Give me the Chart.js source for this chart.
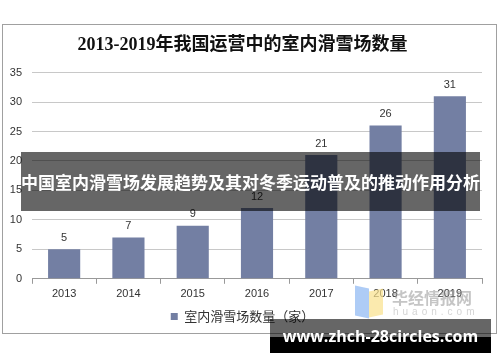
<!DOCTYPE html>
<html>
<head>
<meta charset="utf-8">
<script src="https://cdn.jsdelivr.net/npm/chart.js@4"></script>
<style>
  body { margin: 0; width: 500px; height: 362px; background: #fff; position: relative; overflow: hidden; }
  #frame { position: absolute; left: 2px; top: 24px; width: 493px; height: 308px; border: 1px solid #a0a0a0; }
  #frame canvas { display: block; }
  .band { position: absolute; left: 21px; top: 152px; width: 459px; height: 59px; background: rgba(0,0,0,0.6);
          color: #fff; font: bold 17px "Noto Sans CJK SC", sans-serif; text-align: center; line-height: 59px; white-space: nowrap; }
  .site-gray { position: absolute; left: 270px; top: 319px; width: 221px; height: 18px; background: rgba(0,0,0,0.6); }
  .site-black { position: absolute; left: 270px; top: 337px; width: 221px; height: 16px; background: #000; }
  .site-text { position: absolute; left: 270px; top: 325px; width: 221px; text-align: center; color: #fff;
               font: bold 16px "Open Sans", sans-serif; line-height: 22px; }
  .wm-blue { position: absolute; left: 355px; top: 287px; width: 14px; height: 30px; background: rgba(120,170,240,0.6); transform: skewY(12deg); }
  .wm-yellow { position: absolute; left: 369px; top: 290px; width: 14px; height: 26px; background: rgba(250,225,140,0.7); transform: skewY(-12deg); }
  .wm-text { position: absolute; left: 392px; top: 285px; color: rgba(150,150,150,0.55); font: bold 16px "Noto Sans CJK SC", sans-serif; }
  .wm-sub { position: absolute; left: 393px; top: 306px; color: rgba(170,170,170,0.5); font: 10px "Liberation Sans", sans-serif; letter-spacing: 4px; }
</style>
</head>
<body>
<div id="frame"><canvas id="chart" width="493" height="308"></canvas></div>
<div class="wm-blue"></div>
<div class="wm-yellow"></div>
<div class="wm-text">华经情报网</div>
<div class="wm-sub">huaon.com</div>
<div class="band">中国室内滑雪场发展趋势及其对冬季运动普及的推动作用分析</div>
<div class="site-gray"></div>
<div class="site-black"></div>
<div class="site-text">www.zhch-28circles.com</div>
<script>
const years = ['2013', '2014', '2015', '2016', '2017', '2018', '2019'];
const rinks = [5, 7, 9, 12, 21, 26, 31];
const seriesName = '室内滑雪场数量（家）';
const chartTitle = '2013-2019年我国运营中的室内滑雪场数量';

// value labels above each bar
const barLabels = {
  id: 'barLabels',
  afterDatasetsDraw(chart) {
    const ctx = chart.ctx;
    const meta = chart.getDatasetMeta(0);
    ctx.save();
    ctx.font = '11px "Liberation Sans", Arial, sans-serif';
    ctx.fillStyle = '#333';
    ctx.textAlign = 'center';
    ctx.textBaseline = 'bottom';
    meta.data.forEach((bar, i) => {
      ctx.fillText(rinks[i], bar.x, bar.y - 6);
    });
    ctx.restore();
  }
};

new Chart(document.getElementById('chart'), {
  type: 'bar',
  data: {
    labels: years,
    datasets: [{
      label: seriesName,
      data: rinks,
      backgroundColor: '#737fa3',
      barPercentage: 0.5,
      categoryPercentage: 1
    }]
  },
  options: {
    responsive: false,
    animation: false,
    layout: { padding: { left: 0, right: 14, top: 4, bottom: 0 } },
    plugins: {
      title: {
        display: true,
        text: chartTitle,
        color: '#111',
        font: { family: '"Liberation Serif", "Noto Sans CJK SC", serif', size: 18, weight: 'bold' },
        padding: { top: 6, bottom: 16 }
      },
      legend: {
        position: 'bottom',
        labels: {
          boxWidth: 7, boxHeight: 7, color: '#333',
          font: { family: '"Noto Sans CJK SC", sans-serif', size: 13 },
          padding: 5
        }
      },
      tooltip: { enabled: false }
    },
    scales: {
      x: {
        grid: { display: true, drawOnChartArea: false, tickLength: 5, color: '#999' },
        border: { color: '#999' },
        ticks: { color: '#333', font: { family: '"Liberation Sans", Arial, sans-serif', size: 11 }, padding: 4 }
      },
      y: {
        min: 0, max: 35,
        ticks: { stepSize: 5, color: '#333', font: { family: '"Liberation Sans", Arial, sans-serif', size: 11 }, padding: 10 },
        grid: { color: '#c8c8c8', drawTicks: false },
        border: { display: false },
        afterFit(scale) { scale.width = 29; }
      }
    }
  },
  plugins: [barLabels]
});
</script>
</body>
</html>
